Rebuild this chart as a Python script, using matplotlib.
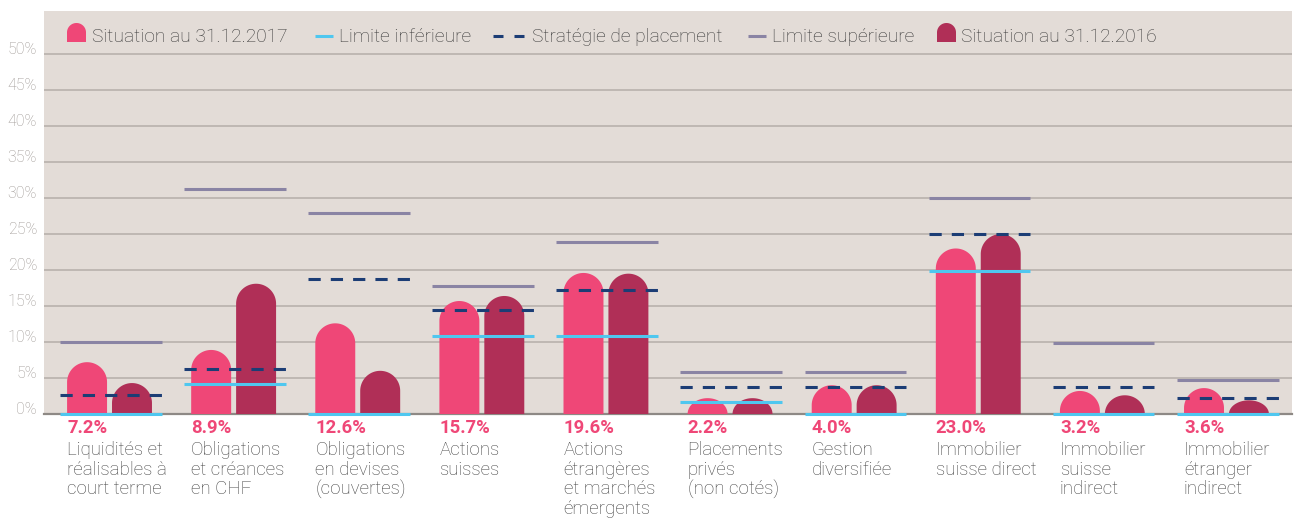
import matplotlib
matplotlib.use('Agg')
import matplotlib.pyplot as plt
import matplotlib.transforms as mtransforms
import numpy as np
from matplotlib.lines import Line2D
from matplotlib.patches import PathPatch
from matplotlib.path import Path

# Allocation des placements (%)
categories = ['Liquidités et\nréalisables à\ncourt terme',
              'Obligations\net créances\nen CHF',
              'Obligations\nen devises\n(couvertes)',
              'Actions\nsuisses',
              'Actions\nétrangères\net marchés\némergents',
              'Placements\nprivés\n(non cotés)',
              'Gestion\ndiversifiée',
              'Immobilier\nsuisse direct',
              'Immobilier\nsuisse\nindirect',
              'Immobilier\nétranger\nindirect']
situation_2017 = [7.2, 8.9, 12.6, 15.7, 19.6, 2.2, 4.0, 23.0, 3.2, 3.6]
situation_2016 = [4.3, 18.1, 6.0, 16.4, 19.5, 2.2, 4.0, 25.0, 2.6, 1.9]
limite_inf = [0.0, 4.2, 0.0, 10.9, 10.9, 1.6, 0.0, 19.9, 0.0, 0.0]
strategie = [2.7, 6.3, 18.8, 14.5, 17.2, 3.8, 3.8, 25.0, 3.8, 2.2]
limite_sup = [10.0, 31.3, 28.0, 17.8, 23.9, 5.8, 5.8, 30.0, 9.8, 4.7]
yticks = [0, 5, 10, 15, 20, 25, 30, 35, 40, 45, 50]
legend_labels = ['Situation au 31.12.2017', 'Limite inférieure', 'Stratégie de placement',
                 'Limite supérieure', 'Situation au 31.12.2016']

PINK = '#EF4777'
DARK = '#B02F57'
CYAN = '#4FC7EF'
NAVY = '#1C3D75'
PURPLE = '#8A84A4'
BG = '#E3DCD7'
GRID = '#BCB5B0'
FONT = 'Roboto'

W, H = 1300, 519
fig = plt.figure(figsize=(W / 100, H / 100), dpi=100)
ax = fig.add_axes([44 / W, (H - 414) / H, 1248 / W, 403 / H])
ax.set_facecolor(BG)
ax.set_xlim(-0.528, 9.528)
ax.set_ylim(0, 56.0)

for s in ax.spines.values():
    s.set_visible(False)
ax.set_xticks([])
ax.set_yticks(yticks)
ax.set_yticklabels(['%d%%' % t for t in yticks], fontfamily=FONT, fontweight='light',
                   fontsize=11.5, color='#9E9894')
for lab in ax.get_yticklabels():
    lab.set_va('baseline')
ax.tick_params(axis='y', length=0, pad=5)
ax.yaxis.grid(True, color=GRID, lw=1.3, zorder=0)
ax.set_axisbelow(True)
ax.axhline(0, color='#8E8985', lw=1.6, zorder=1, clip_on=False)

bar_w = 0.322
off = 0.181


def rounded_path(x0, width, h, ry):
    """rectangle with an elliptic cap, ry = cap height in y units"""
    r = min(ry, h)
    y0 = h - r
    t = np.linspace(np.pi, 0, 60)
    xs = np.concatenate([[x0], x0 + width / 2 + width / 2 * np.cos(t), [x0 + width, x0]])
    ys = np.concatenate([[0], y0 + r * np.sin(t), [0, 0]])
    return Path(np.column_stack([xs, ys]))


# cap radius in data y units = half bar width in pixels
p0 = ax.transData.transform((0, 0))
p1 = ax.transData.transform((bar_w, 1))
ry = (p1[0] - p0[0]) / 2 / (p1[1] - p0[1])

x = np.arange(len(categories))
for i in x:
    for val, dx, col in [(situation_2017[i], -off, PINK), (situation_2016[i], off, DARK)]:
        path = rounded_path(i + dx - bar_w / 2, bar_w, val, ry)
        ax.add_patch(PathPatch(path, facecolor=col, edgecolor='none', zorder=2))

ax.hlines(limite_sup, x - 0.40, x + 0.42, color=PURPLE, lw=2.2, zorder=3, capstyle='butt')
ax.hlines(limite_inf, x - 0.40, x + 0.42, color=CYAN, lw=2.2, zorder=4, capstyle='butt',
          clip_on=False)
for i in x:
    ax.plot([i - 0.40, i + 0.42], [strategie[i]] * 2, color=NAVY, lw=2.2, zorder=5,
            dashes=(4, 3.3), solid_capstyle='butt', dash_capstyle='butt')

# labels under the bars
trans = mtransforms.blended_transform_factory(ax.transData, ax.transAxes)
for i in x:
    xl = i - off - bar_w / 2
    ax.text(xl, 0, '%.1f%%' % situation_2017[i],
            transform=trans + mtransforms.ScaledTranslation(0, -5 / 100, fig.dpi_scale_trans),
            ha='left', va='top', fontfamily=FONT, fontweight='bold', fontsize=13.3, color=PINK)
    ax.text(xl, 0, categories[i],
            transform=trans + mtransforms.ScaledTranslation(0, -27 / 100, fig.dpi_scale_trans),
            ha='left', va='top', fontfamily=FONT, fontweight='light', fontsize=13.5,
            color='#444444', linespacing=1.12)

# legend, drawn by hand
ly = 1 - 35.5 / H
markers = ['bar', 'line', 'dash', 'line', 'bar']
mcolors = [PINK, CYAN, NAVY, PURPLE, DARK]
mx = [67, 315, 493, 748, 937]
tx = [92, 339, 532, 772, 961]
for lab, kind, col, a, b in zip(legend_labels, markers, mcolors, mx, tx):
    if kind == 'bar':
        path = rounded_path(a / W, 19 / W, 19 / H, 9.5 / H)
        verts = path.vertices + np.array([0, 1 - 42 / H])
        fig.patches.append(PathPatch(Path(verts), facecolor=col, edgecolor='none',
                                     transform=fig.transFigure, figure=fig))
    elif kind == 'line':
        fig.add_artist(Line2D([a / W, (a + 18) / W], [ly, ly], color=col, lw=2.2,
                              solid_capstyle='butt', transform=fig.transFigure))
    else:
        for d in (0, 21):
            fig.add_artist(Line2D([(a + d) / W, (a + d + 10) / W], [ly, ly], color=col, lw=2.2,
                                  solid_capstyle='butt', transform=fig.transFigure))
    fig.text(b / W, ly, lab, ha='left', va='center_baseline', fontfamily=FONT,
             fontweight='light', fontsize=13.8, color='#383838')

fig.savefig('out.png', dpi=100, facecolor='white')
